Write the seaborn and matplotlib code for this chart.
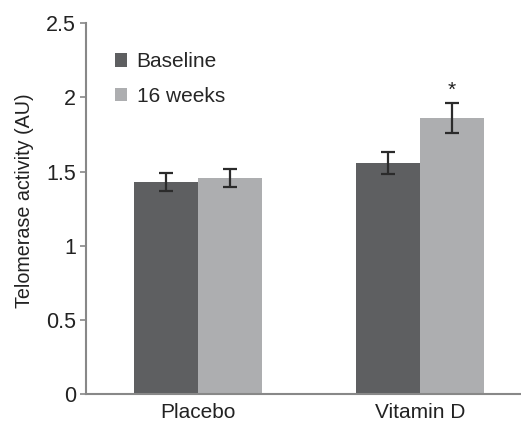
import pandas as pd
import matplotlib
matplotlib.use('Agg')
import matplotlib.pyplot as plt
import seaborn as sns
import numpy as np

# Values
groups = ['Placebo', 'Vitamin D']
timepoints = ['Baseline', '16 weeks']
baseline = [1.43, 1.56]
week16 = [1.455, 1.86]
baseline_err = [0.06, 0.074]
week16_err = [0.06, 0.10]
yticks = [0, 0.5, 1, 1.5, 2, 2.5]
ytick_labels = ['0', '0.5', '1', '1.5', '2', '2.5']

df = pd.DataFrame({
    'group': groups * 2,
    'time': [timepoints[0]] * 2 + [timepoints[1]] * 2,
    'value': baseline + week16,
    'err': baseline_err + week16_err,
})

sns.set_style('white')
plt.rcParams['font.family'] = ['Liberation Sans', 'DejaVu Sans']

fig = plt.figure(figsize=(5.21, 4.21), dpi=100)
ax = fig.add_axes([0.165, 0.064, 0.833, 0.881])

palette = {'Baseline': '#5e5f61', '16 weeks': '#adaeb0'}
sns.barplot(data=df, x='group', y='value', hue='time', order=groups,
            hue_order=timepoints, palette=palette, width=0.577, gap=0,
            errorbar=None, saturation=1, linewidth=0, ax=ax)

# Error bars on top of each bar
for cont, tp in zip(ax.containers, timepoints):
    sub = df[df['time'] == tp].set_index('group').loc[groups]
    xs = [p.get_x() + p.get_width() / 2 for p in cont.patches]
    ax.errorbar(xs, sub['value'], yerr=sub['err'], fmt='none',
                ecolor='#2b2b2b', elinewidth=1.6, capsize=5, capthick=1.6)

# Significance marker above Vitamin D 16 weeks
vd = df[(df['group'] == 'Vitamin D') & (df['time'] == '16 weeks')].iloc[0]
star_bar = ax.containers[1].patches[1]
ax.text(star_bar.get_x() + star_bar.get_width() / 2, vd['value'] + vd['err'] + 0.02,
        '*', ha='center', va='bottom', fontsize=15, color='#222222')

ax.set_xlim(-0.505, 1.45)
ax.set_ylim(0, 2.5)
ax.set_yticks(yticks)
ax.set_yticklabels(ytick_labels)
ax.set_xlabel('')
ax.set_ylabel('Telomerase activity (AU)', fontsize=14.2, color='#222222')
ax.yaxis.set_label_coords(-0.12, 0.52)
ax.tick_params(axis='y', left=True, length=4, width=1.2, color='#888888',
               labelsize=15.5, labelcolor='#222222', pad=3)
ax.tick_params(axis='x', bottom=False, labelsize=15, labelcolor='#222222', pad=3)

sns.despine(ax=ax)
for s in ['left', 'bottom']:
    ax.spines[s].set_color('#888888')
    ax.spines[s].set_linewidth(1.5)

leg = ax.legend(loc='upper left', bbox_to_anchor=(0.023, 0.972), frameon=False,
                fontsize=15, handlelength=0.6, handleheight=0.6,
                handletextpad=0.45, labelspacing=0.75)

fig.savefig('out.png', dpi=100)
